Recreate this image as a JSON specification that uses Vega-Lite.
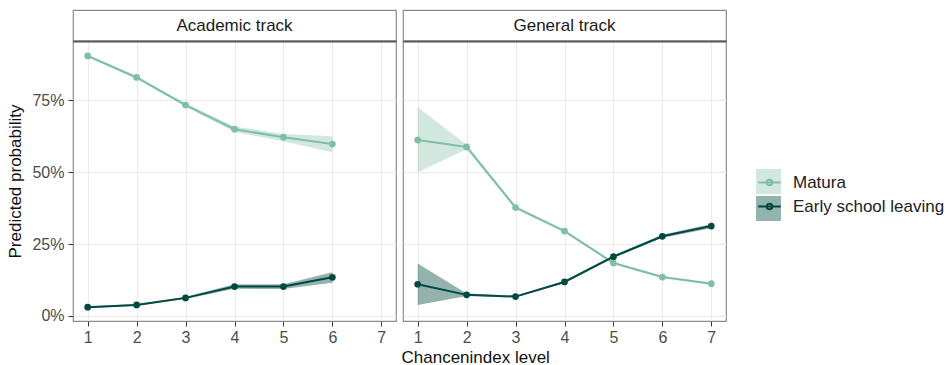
{
  "$schema": "https://vega.github.io/schema/vega-lite/v6.json",
  "background": "white",
  "padding": {"left": 6, "top": 9, "right": 5, "bottom": 3},
  "config": {
    "font": "Liberation Sans",
    "view": {"stroke": "#8c8c8c", "strokeWidth": 1.2, "fill": "white"},
    "concat": {"spacing": 5}
  },
  "title": {"text": "Chancenindex level", "orient": "bottom", "anchor": "middle", "fontSize": 17, "fontWeight": "normal", "color": "#111111", "offset": 4},
  "datasets": {
    "pred": [
      {"track": "Academic track", "outcome": "Matura", "level": 1, "p": 0.905, "lo": 0.900, "hi": 0.910},
      {"track": "Academic track", "outcome": "Matura", "level": 2, "p": 0.830, "lo": 0.825, "hi": 0.835},
      {"track": "Academic track", "outcome": "Matura", "level": 3, "p": 0.734, "lo": 0.728, "hi": 0.740},
      {"track": "Academic track", "outcome": "Matura", "level": 4, "p": 0.650, "lo": 0.640, "hi": 0.659},
      {"track": "Academic track", "outcome": "Matura", "level": 5, "p": 0.622, "lo": 0.608, "hi": 0.633},
      {"track": "Academic track", "outcome": "Matura", "level": 6, "p": 0.598, "lo": 0.570, "hi": 0.625},
      {"track": "Academic track", "outcome": "Early school leaving", "level": 1, "p": 0.030, "lo": 0.027, "hi": 0.033},
      {"track": "Academic track", "outcome": "Early school leaving", "level": 2, "p": 0.038, "lo": 0.035, "hi": 0.041},
      {"track": "Academic track", "outcome": "Early school leaving", "level": 3, "p": 0.0625, "lo": 0.059, "hi": 0.066},
      {"track": "Academic track", "outcome": "Early school leaving", "level": 4, "p": 0.102, "lo": 0.094, "hi": 0.110},
      {"track": "Academic track", "outcome": "Early school leaving", "level": 5, "p": 0.102, "lo": 0.093, "hi": 0.110},
      {"track": "Academic track", "outcome": "Early school leaving", "level": 6, "p": 0.134, "lo": 0.115, "hi": 0.152},
      {"track": "General track", "outcome": "Matura", "level": 1, "p": 0.612, "lo": 0.500, "hi": 0.726},
      {"track": "General track", "outcome": "Matura", "level": 2, "p": 0.588, "lo": 0.580, "hi": 0.596},
      {"track": "General track", "outcome": "Matura", "level": 3, "p": 0.377, "lo": 0.371, "hi": 0.384},
      {"track": "General track", "outcome": "Matura", "level": 4, "p": 0.295, "lo": 0.290, "hi": 0.300},
      {"track": "General track", "outcome": "Matura", "level": 5, "p": 0.184, "lo": 0.180, "hi": 0.188},
      {"track": "General track", "outcome": "Matura", "level": 6, "p": 0.135, "lo": 0.131, "hi": 0.139},
      {"track": "General track", "outcome": "Matura", "level": 7, "p": 0.112, "lo": 0.108, "hi": 0.116},
      {"track": "General track", "outcome": "Early school leaving", "level": 1, "p": 0.110, "lo": 0.038, "hi": 0.182},
      {"track": "General track", "outcome": "Early school leaving", "level": 2, "p": 0.073, "lo": 0.069, "hi": 0.078},
      {"track": "General track", "outcome": "Early school leaving", "level": 3, "p": 0.067, "lo": 0.064, "hi": 0.070},
      {"track": "General track", "outcome": "Early school leaving", "level": 4, "p": 0.118, "lo": 0.114, "hi": 0.122},
      {"track": "General track", "outcome": "Early school leaving", "level": 5, "p": 0.206, "lo": 0.201, "hi": 0.211},
      {"track": "General track", "outcome": "Early school leaving", "level": 6, "p": 0.277, "lo": 0.272, "hi": 0.282},
      {"track": "General track", "outcome": "Early school leaving", "level": 7, "p": 0.3125, "lo": 0.305, "hi": 0.320}
    ]
  },
  "hconcat": [
    {
      "spacing": 0,
      "bounds": "flush",
      "vconcat": [
        {
          "width": 323, "height": 31,
          "data": {"values": [{"track": "Academic track"}]},
          "mark": {"type": "text", "fontSize": 17, "color": "#1a1a1a", "baseline": "middle"},
          "encoding": {
            "x": {"field": "track", "type": "nominal", "axis": null},
            "text": {"field": "track"}
          }
        },
        {
          "width": 323, "height": 280,
          "data": {"name": "pred"},
          "transform": [{"filter": "datum.track === 'Academic track'"}],
          "resolve": {"axis": {"x": "independent"}},
          "layer": [
            {
              "mark": {"type": "area", "opacity": 0.42},
              "encoding": {
                "x": {"field": "level", "type": "quantitative", "scale": {"domain": [0.7, 7.3], "nice": false, "zero": false},
                  "axis": {"values": [1, 1.5, 2, 2.5, 3, 3.5, 4, 4.5, 5, 5.5, 6, 6.5, 7], "title": null, "domain": false, "format": "d",
                    "labelExpr": "datum.value % 1 === 0 ? datum.label : ''", "labelFontSize": 16, "labelColor": "#4d4d4d", "labelPadding": 3,
                    "tickSize": 5, "tickColor": "#333333", "tickOpacity": {"condition": {"test": "datum.value % 1 !== 0", "value": 0}, "value": 1},
                    "gridColor": "#ebebeb", "gridWidth": {"condition": {"test": "datum.value % 1 !== 0", "value": 0.6}, "value": 1.2}}},
                "y": {"field": "lo", "type": "quantitative", "scale": {"domain": [-0.018, 0.957], "nice": false, "zero": false},
                  "axis": {"values": [0, 0.125, 0.25, 0.375, 0.5, 0.625, 0.75, 0.875], "format": ".0%", "domain": false,
                    "title": "Predicted probability", "titleFontSize": 17, "titleFontWeight": "normal", "titleColor": "#111111", "titlePadding": 7,
                    "labelExpr": "datum.value % 0.25 === 0 ? datum.label : ''", "labelFontSize": 16, "labelColor": "#4d4d4d", "labelPadding": 4,
                    "tickSize": 5, "tickColor": "#333333", "tickOpacity": {"condition": {"test": "datum.value % 0.25 !== 0", "value": 0}, "value": 1},
                    "gridColor": "#ebebeb", "gridWidth": {"condition": {"test": "datum.value % 0.25 !== 0", "value": 0.6}, "value": 1.2}}},
                "y2": {"field": "hi"},
                "color": {"field": "outcome", "type": "nominal",
                  "scale": {"domain": ["Matura", "Early school leaving"], "range": ["#93c9b3", "#00493e"]},
                  "legend": {"title": null, "orient": "none", "legendX": 683, "legendY": 159, "symbolType": "square", "symbolSize": 625,
                    "symbolOpacity": 0.42, "symbolStrokeWidth": 0, "labelExpr": "''", "labelFontSize": 17, "labelOffset": 10, "rowPadding": 2, "padding": 0}}
              }
            },
            {
              "mark": {"type": "line", "strokeWidth": 2},
              "encoding": {
                "x": {"field": "level", "type": "quantitative", "axis": null},
                "y": {"field": "p", "type": "quantitative"},
                "stroke": {"field": "outcome", "type": "nominal", "sort": ["Matura", "Early school leaving"],
                  "scale": {"range": ["#7fbfa6", "#00493e"]},
                  "legend": {"title": null, "orient": "none", "legendX": 683, "legendY": 159,
                    "symbolType": "M-0.9,0H0.9M-0.22,0A0.22,0.22 0 1,1 0.22,0A0.22,0.22 0 1,1 -0.22,0Z", "symbolSize": 625,
                    "symbolStrokeWidth": 2, "labelFontSize": 17, "labelColor": "#222222", "labelOffset": 10, "rowPadding": 2, "padding": 0, "labelLimit": 300}}
              }
            },
            {
              "mark": {"type": "point", "filled": true, "size": 45, "opacity": 1},
              "encoding": {
                "x": {"field": "level", "type": "quantitative",
                  "axis": {"orient": "top", "labels": false, "ticks": false, "grid": false, "title": null, "domain": true, "domainColor": "#555555", "domainWidth": 2, "minExtent": 0, "maxExtent": 0}},
                "y": {"field": "p", "type": "quantitative"},
                "fill": {"field": "outcome", "type": "nominal", "sort": ["Matura", "Early school leaving"],
                  "scale": {"range": ["#7fbfa6", "#00493e"]}, "legend": null}
              }
            }
          ]
        }
      ]
    },
    {
      "spacing": 0,
      "bounds": "flush",
      "vconcat": [
        {
          "width": 323, "height": 31,
          "data": {"values": [{"track": "General track"}]},
          "mark": {"type": "text", "fontSize": 17, "color": "#1a1a1a", "baseline": "middle"},
          "encoding": {
            "x": {"field": "track", "type": "nominal", "axis": null},
            "text": {"field": "track"}
          }
        },
        {
          "width": 323, "height": 280,
          "data": {"name": "pred"},
          "transform": [{"filter": "datum.track === 'General track'"}],
          "resolve": {"axis": {"x": "independent"}},
          "layer": [
            {
              "mark": {"type": "area", "opacity": 0.42},
              "encoding": {
                "x": {"field": "level", "type": "quantitative", "scale": {"domain": [0.7, 7.3], "nice": false, "zero": false},
                  "axis": {"values": [1, 1.5, 2, 2.5, 3, 3.5, 4, 4.5, 5, 5.5, 6, 6.5, 7], "title": null, "domain": false, "format": "d",
                    "labelExpr": "datum.value % 1 === 0 ? datum.label : ''", "labelFontSize": 16, "labelColor": "#4d4d4d", "labelPadding": 3,
                    "tickSize": 5, "tickColor": "#333333", "tickOpacity": {"condition": {"test": "datum.value % 1 !== 0", "value": 0}, "value": 1},
                    "gridColor": "#ebebeb", "gridWidth": {"condition": {"test": "datum.value % 1 !== 0", "value": 0.6}, "value": 1.2}}},
                "y": {"field": "lo", "type": "quantitative", "scale": {"domain": [-0.018, 0.957], "nice": false, "zero": false},
                  "axis": {"values": [0, 0.125, 0.25, 0.375, 0.5, 0.625, 0.75, 0.875], "domain": false, "labels": false, "ticks": false, "title": null,
                    "minExtent": 0, "maxExtent": 0,
                    "gridColor": "#ebebeb", "gridWidth": {"condition": {"test": "datum.value % 0.25 !== 0", "value": 0.6}, "value": 1.2}}},
                "y2": {"field": "hi"},
                "color": {"field": "outcome", "type": "nominal"}
              }
            },
            {
              "mark": {"type": "line", "strokeWidth": 2},
              "encoding": {
                "x": {"field": "level", "type": "quantitative", "axis": null},
                "y": {"field": "p", "type": "quantitative"},
                "stroke": {"field": "outcome", "type": "nominal", "sort": ["Matura", "Early school leaving"]}
              }
            },
            {
              "mark": {"type": "point", "filled": true, "size": 45, "opacity": 1},
              "encoding": {
                "x": {"field": "level", "type": "quantitative",
                  "axis": {"orient": "top", "labels": false, "ticks": false, "grid": false, "title": null, "domain": true, "domainColor": "#555555", "domainWidth": 2, "minExtent": 0, "maxExtent": 0}},
                "y": {"field": "p", "type": "quantitative"},
                "fill": {"field": "outcome", "type": "nominal", "sort": ["Matura", "Early school leaving"]}
              }
            }
          ]
        }
      ]
    }
  ]
}
